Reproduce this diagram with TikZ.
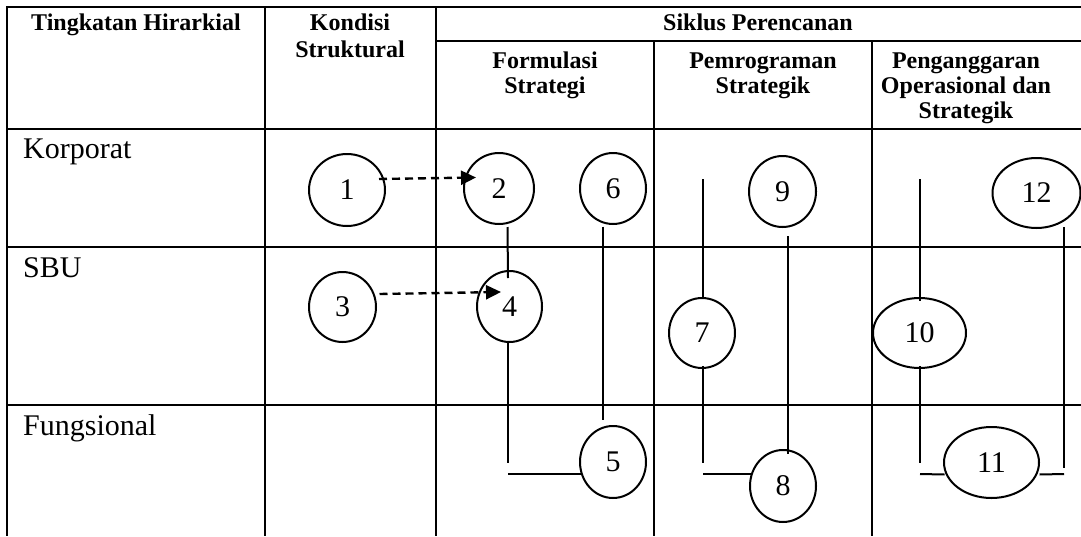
\documentclass[tikz,border=0pt]{standalone}
\usepackage{fontspec}
\setmainfont{Liberation Serif}
\usetikzlibrary{shapes.geometric,arrows.meta}
\newcommand{\hdfont}{\fontsize{24}{28}\selectfont\bfseries}
\newcommand{\lbfont}{\fontsize{30}{36}\selectfont}
\newcommand{\nmfont}{\fontsize{30}{36}\selectfont}
\tikzset{
  tbl/.style={line width=2.6pt},
  hd/.style={font=\hdfont, anchor=base, inner sep=0pt},
  lb/.style={font=\lbfont, anchor=base west, inner sep=0pt},
  circ/.style={draw, ellipse, line width=2pt, inner sep=0pt, outer sep=0pt, font=\nmfont},
  conn/.style={line width=2pt},
  dasharrow/.style={line width=2.4pt, dash pattern=on 8pt off 5pt, -{Triangle[length=15pt,width=14pt]}}
}
\begin{document}
\begin{tikzpicture}[x=1pt,y=-1pt]
\useasboundingbox (0,0) rectangle (1081,536);
\clip (0,0) rectangle (1081,536);
% table
\draw[tbl, line join=miter] (1081,7) -- (7,7) -- (7,536);
\draw[tbl] (265,7) -- (265,536);
\draw[tbl] (436,7) -- (436,536);
\draw[tbl] (436,41) -- (1081,41);
\draw[tbl] (654,41) -- (654,536);
\draw[tbl] (872,41) -- (872,536);
\draw[tbl] (7,129) -- (1081,129);
\draw[tbl] (7,247) -- (1081,247);
\draw[tbl] (7,405) -- (1081,405);
% header texts
\node[hd] (h1) at (136,30) {Tingkatan Hirarkial};
\node[hd] (h2a) at (350,30) {Kondisi};
\node[hd] (h2b) at (350,57) {Struktural};
\node[hd] (h3) at (758,30) {Siklus Perencanan};
\node[hd] (h4a) at (545,68) {Formulasi};
\node[hd] (h4b) at (545,93) {Strategi};
\node[hd] (h5a) at (763,68) {Pemrograman};
\node[hd] (h5b) at (763,93) {Strategik};
\node[hd] (h6a) at (966,68) {Penganggaran};
\node[hd] (h6b) at (966,93) {Operasional dan};
\node[hd] (h6c) at (966,118) {Strategik};
% row labels
\node[lb] (r1) at (23,158) {Korporat};
\node[lb] (r2) at (23,277) {SBU};
\node[lb] (r3) at (23,435) {Fungsional};
% ellipses
\node[circ, minimum width=76pt, minimum height=72pt] (c1) at (347,190) {1};
\node[circ, minimum width=70pt, minimum height=71pt] (c2) at (499,188.5) {2};
\node[circ, minimum width=66pt, minimum height=71pt] (c6) at (613,188.5) {6};
\node[circ, minimum width=67pt, minimum height=71pt] (c9) at (782.5,191.5) {9};
\node[circ, minimum width=88pt, minimum height=70pt] (c12) at (1036.5,193) {12};
\node[circ, minimum width=67pt, minimum height=70pt] (c3) at (342.5,307) {3};
\node[circ, minimum width=65pt, minimum height=71pt] (c4) at (509.5,306.5) {4};
\node[circ, minimum width=66pt, minimum height=70pt] (c7) at (702,333) {7};
\node[circ, minimum width=93pt, minimum height=70pt] (c10) at (919.5,333) {10};
\node[circ, minimum width=66pt, minimum height=72pt] (c5) at (613,462) {5};
\node[circ, minimum width=66pt, minimum height=72pt] (c8) at (783,486) {8};
\node[circ, minimum width=95pt, minimum height=71pt] (c11) at (991.5,462.5) {11};
% free corner coordinates
\coordinate (b4) at (508,463);
\coordinate (k4) at (508,474);
\coordinate (t7) at (703,179);
\coordinate (b7) at (703,463);
\coordinate (k7) at (703,474);
\coordinate (t10) at (920,179);
\coordinate (b10) at (920,463);
\coordinate (k10) at (920,474);
\coordinate (b12) at (1064,468);
\coordinate (k12) at (1064,474);
% dashed arrows
\draw[dasharrow] ([shift={(-6,-11)}]c1.east) -- ([shift={(12,-11)}]c2.west);
\draw[dasharrow] ([shift={(3.5,-13)}]c3.east) -- ([shift={(24,-14.5)}]c4.west);
% connectors
\draw[conn] ([shift={(8.5,3)}]c2.south) -- ([shift={(-1.5,7)}]c4.north);
\draw[conn] ([shift={(-10,2.5)}]c6.south) -- ([shift={(-10,-6)}]c5.north);
\draw[conn] ([shift={(-1.5,0)}]c4.south) -- (b4);
\draw[conn] (k4) -- ([shift={(1,12)}]c5.west);
\draw[conn] (t7) -- ([shift={(1,0)}]c7.north);
\draw[conn] ([shift={(1,-2)}]c7.south) -- (b7);
\draw[conn] (k7) -- ([shift={(1,-12)}]c8.west);
\draw[conn] ([shift={(5.5,9)}]c9.south) -- ([shift={(5,4)}]c8.north);
\draw[conn] (t10) -- ([shift={(0.5,3)}]c10.north);
\draw[conn] ([shift={(0.5,-2)}]c10.south) -- (b10);
\draw[conn] (k10) -- ([shift={(0.5,12)}]c11.west);
\draw[conn] ([shift={(27.5,-1)}]c12.south) -- (b12);
\draw[conn] ([shift={(0.5,12)}]c11.east) -- (k12);
\end{tikzpicture}
\end{document}
